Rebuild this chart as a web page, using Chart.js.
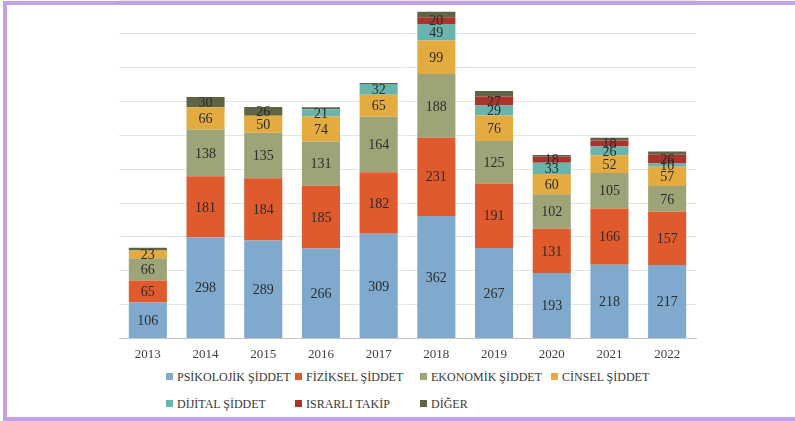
<!DOCTYPE html>
<html>
<head>
<meta charset="utf-8">
<script src="https://cdn.jsdelivr.net/npm/chart.js@4"></script>
<style>
    body { margin: 0; background: #fff; }
    #wrap { position: relative; width: 795px; height: 421px; overflow: hidden; background: #fff; }
    #frame {
        position: absolute; left: 3px; top: 1px; width: 820px; height: 412px;
        border-top: 4px solid #c6a1e1; border-left: 4px solid #c6a1e1; border-bottom: 4px solid #c6a1e1;
        pointer-events: none; z-index: 2;
    }
    #chartBox { position: absolute; left: 0; top: 0; width: 795px; height: 362px; }
    #legend { position: absolute; left: 0; top: 368px; width: 795px; height: 48px;
        font-family: 'Liberation Serif', serif; font-size: 12px; color: #383838; }
    .item { position: absolute; white-space: nowrap; line-height: 16px; }
    .item span.box { display: inline-block; width: 7px; height: 7px; margin-right: 4px; vertical-align: 1px; }
</style>
</head>
<body>
<div id="wrap">
    <div id="chartBox"><canvas id="violenceChart"></canvas></div>
    <div id="legend"></div>
    <div id="frame"></div>
</div>
<script>
// Data
const years = ['2013', '2014', '2015', '2016', '2017', '2018', '2019', '2020', '2021', '2022'];
const psikolojik = [106, 298, 289, 266, 309, 362, 267, 193, 218, 217];
const fiziksel = [65, 181, 184, 185, 182, 231, 191, 131, 166, 157];
const ekonomik = [66, 138, 135, 131, 164, 188, 125, 102, 105, 76];
const cinsel = [23, 66, 50, 74, 65, 99, 76, 60, 52, 57];
const dijital = [0, 0, 0, 21, 32, 49, 29, 33, 26, 10];
const israrli = [0, 0, 0, 0, 0, 20, 27, 18, 18, 26];
const diger = [8, 30, 26, 6, 3, 16, 16, 5, 8, 9];

const seriesLabels = ['PSİKOLOJİK ŞİDDET', 'FİZİKSEL ŞİDDET', 'EKONOMİK ŞİDDET', 'CİNSEL ŞİDDET',
    'DİJİTAL ŞİDDET', 'ISRARLI TAKİP', 'DİĞER'];
const seriesColors = ['#7faacd', '#df5a2d', '#9fa478', '#e3ab40', '#69b5ae', '#a9342b', '#5e6444'];
const seriesData = [psikolojik, fiziksel, ekonomik, cinsel, dijital, israrli, diger];

// Legend columns (x of each column), two rows
const legendCols = [166, 295, 420, 551];

// Draws value labels in the middle of each segment
const segmentLabels = {
    id: 'segmentLabels',
    afterDatasetsDraw(chart) {
        const ctx = chart.ctx;
        ctx.save();
        ctx.font = '14px "Liberation Serif"';
        ctx.fillStyle = '#2b2b2b';
        ctx.textAlign = 'center';
        ctx.textBaseline = 'middle';
        chart.data.datasets.forEach((ds, di) => {
            const meta = chart.getDatasetMeta(di);
            meta.data.forEach((bar, i) => {
                const v = ds.data[i];
                if (v < 10) return;
                if (di === 6 && v < 20) return; // small "diğer" values are not labelled
                const mid = (bar.y + bar.base) / 2;
                ctx.fillText(String(v), bar.x, mid + 1);
            });
        });
        ctx.restore();
    }
};

const ctx = document.getElementById('violenceChart').getContext('2d');
const violenceChart = new Chart(ctx, {
    type: 'bar',
    data: {
        labels: years,
        datasets: seriesData.map((d, i) => ({
            label: seriesLabels[i],
            data: d,
            backgroundColor: seriesColors[i],
            borderWidth: 0,
            categoryPercentage: 1,
            barPercentage: 0.66
        }))
    },
    options: {
        responsive: true,
        maintainAspectRatio: false,
        animation: false,
        layout: { padding: { left: 119, right: 99, top: 0, bottom: 0 } },
        plugins: {
            legend: { display: false },
            tooltip: { enabled: false }
        },
        scales: {
            x: {
                stacked: true,
                grid: { display: false },
                border: { color: '#c4c4c4', width: 1 },
                ticks: { color: '#404040', font: { family: 'Liberation Serif', size: 13 }, padding: 0 }
            },
            y: {
                stacked: true,
                min: 0,
                max: 1000,
                ticks: { display: false, stepSize: 100 },
                grid: { color: '#e4e4e4', drawTicks: false },
                border: { display: false }
            }
        }
    },
    plugins: [segmentLabels]
});

// HTML legend built from datasets
const legend = document.getElementById('legend');
seriesLabels.forEach((label, i) => {
    const item = document.createElement('div');
    item.className = 'item';
    item.style.left = legendCols[i % 4] + 'px';
    item.style.top = (i < 4 ? 1 : 28) + 'px';
    item.innerHTML = '<span class="box" style="background:' + seriesColors[i] + '"></span>' + label;
    legend.appendChild(item);
});
</script>
</body>
</html>
